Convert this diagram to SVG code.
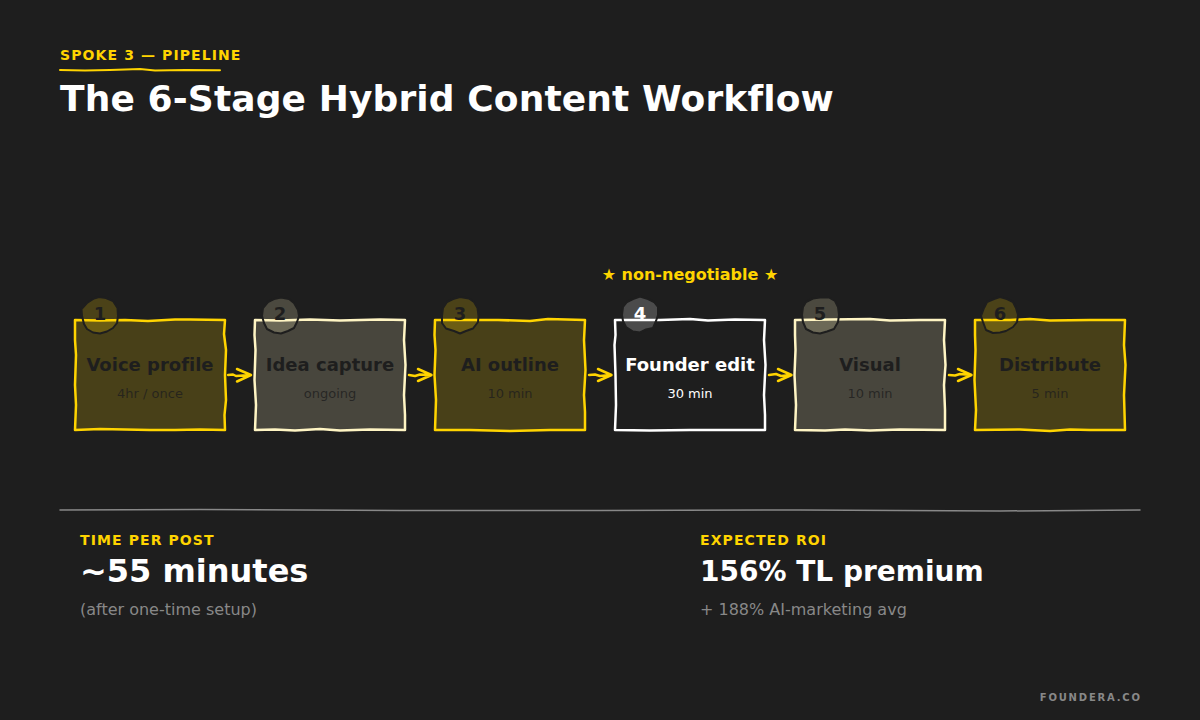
<svg xmlns="http://www.w3.org/2000/svg" width="1200" height="720" viewBox="0 0 1200 720">
<style>
text{font-family:"DejaVu Sans",sans-serif;font-variant-ligatures:none}
.box{stroke-width:2.5;stroke-linejoin:round;stroke-linecap:round}
.y{fill:#ffd400;fill-opacity:.19;stroke:#ffd400}
.c{fill:#fff5c4;fill-opacity:.19;stroke:#fff5c4}
.w{fill:none;stroke:#fff}
.badge{stroke:#1e1e1e;stroke-width:2;stroke-linejoin:round}
.by{fill:#ffd400;fill-opacity:.2}
.bc{fill:#fff5c4;fill-opacity:.2}
.bw{fill:#fff;fill-opacity:.2}
.num{font-size:18px;font-weight:700;text-anchor:middle;fill:#1e1e1e}
.name{font-size:18px;font-weight:700;text-anchor:middle;fill:#1e1e1e}
.sub{font-size:13px;text-anchor:middle;fill:#1e1e1e;fill-opacity:.8}
.cap{font-size:14px;font-weight:700;letter-spacing:1.1px;fill:#ffd400}
.big{font-weight:700;fill:#fff}
.note{font-size:16px;fill:#888}
.arr{fill:none;stroke:#ffd400;stroke-width:2.5;stroke-linecap:round;stroke-linejoin:round}
</style>
<rect width="1200" height="720" fill="#1e1e1e"/>
<text x="60" y="60" class="cap">SPOKE 3 — PIPELINE</text>
<path d="M60 70 L85 70.600 L110 70 L140 69 L155 70.600 L185 70 L220 70.200" fill="none" stroke="#ffd400" stroke-width="2" stroke-linecap="round"/>
<text x="60" y="111" font-size="36" font-weight="700" letter-spacing=".12" fill="#fff">The 6-Stage Hybrid Content Workflow</text>
<text x="690" y="280" font-size="16" font-weight="700" fill="#ffd400" text-anchor="middle">★ non-negotiable ★</text>

<g id="connectors">
<path class="arr" d="M228 375 L233 374.500 L236 376 L250 375 M237 369 L251 375 L237 381.500"/>
<path class="arr" d="M409 375 L415 376 L420 374.500 L431 375 M418 369 L431.500 375 L418 381"/>
<path class="arr" d="M589 375 L595 374.500 L600 376 L611 375 M598 369 L611.500 375 L598 381"/>
<path class="arr" d="M769 375 L776 374 L781 376 L791 375 M778 369 L791.500 375 L778 381"/>
<path class="arr" d="M949 375 L955 375.500 L960 374 L971 375 M958 369 L971.500 375 L958 381"/>
</g>

<g id="node-1">
<path class="box y" d="M75 320 L100 320.500 L125 320 L148 321 L175 319.500 L190 319.500 L225 320 L224 334 L226 350 L225 375 L226 400 L224.500 415 L225 430 L200 429.500 L175 430 L150 430 L125 429.500 L100 429 L75 430 L76 405 L75 385 L76 355 L75 340 Z"/>
<path class="badge by" d="M118 316 L117 323 L113 328 L107 331.500 L100 333.500 L93 332.500 L87 329 L84 324 L82 316 L81.500 309 L87 303 L94 298.500 L99 297 L106 298 L113 301 L117.500 308 Z"/>
<text x="100" y="320" class="num">1</text>
<text x="150" y="371" class="name">Voice profile</text>
<text x="150" y="398" class="sub">4hr / once</text>
</g>

<g id="node-2">
<path class="box c" d="M255 320 L280 320.500 L310 319.500 L340 320.500 L380 319.500 L405 320 L404 340 L405.500 365 L404 395 L405 415 L405 430 L370 429.500 L340 430.500 L320 429 L295 430.500 L275 429.500 L255 430 L256 405 L254.500 380 L255.500 350 L254.500 335 Z"/>
<path class="badge bc" d="M299 316 L297 322 L294 328 L288 331 L281 333.500 L274 332.500 L267 329 L264 323 L262 316 L263 308 L268 302 L274 299 L281 297.500 L289 299 L294 303 L298 310 Z"/>
<text x="280" y="320" class="num">2</text>
<text x="330" y="371" class="name">Idea capture</text>
<text x="330" y="398" class="sub">ongoing</text>
</g>

<g id="node-3">
<path class="box y" d="M435 320 L470 320 L498 320 L530 321 L548 319 L585 320 L584 340 L585.500 370 L584 395 L585 412 L585 430 L550 430 L510 431 L470 430 L435 430 L436 400 L434.500 375 L435.500 350 L434.500 335 Z"/>
<path class="badge by" d="M478.500 316 L478 322 L473 328.500 L466 331 L460 333.500 L454 331 L446 328.500 L442 323 L442 316 L443 308 L447 302 L453 299 L460 297 L469 298.500 L474 302 L477.500 308 Z"/>
<text x="460" y="320" class="num">3</text>
<text x="510" y="371" class="name">AI outline</text>
<text x="510" y="398" class="sub">10 min</text>
</g>

<g id="node-4">
<path class="box w" d="M615 320 L660 320 L690 319 L708 320.500 L735 319.500 L765 320 L764 340 L765.500 365 L764 395 L765 415 L765 430 L730 430 L690 430 L650 430.500 L615 430 L616 405 L615.500 375 L614.500 345 L615.500 335 Z"/>
<path class="badge bw" d="M658 315 L656 321 L653 328 L646 329.500 L640 332.500 L633 331.500 L626 327 L623 321 L622 315 L623 307 L627 302 L633 299 L640 296.500 L648 299 L654 302 L658 307 Z"/>
<text x="640" y="320" class="num" style="fill:#fff">4</text>
<text x="690" y="371" class="name" style="fill:#fff">Founder edit</text>
<text x="690" y="398" class="sub" style="fill:#fff;fill-opacity:1">30 min</text>
</g>

<g id="node-5">
<path class="box c" d="M795 320 L830 319.500 L870 319 L890 320.500 L920 320 L945 320 L944 340 L945.500 365 L944 385 L945 410 L945 430 L900 429.500 L870 430.500 L845 429.500 L825 430.500 L795 430 L796 405 L794.500 375 L795.500 350 L795 335 Z"/>
<path class="badge bc" d="M839 315 L838 322 L834 329 L827 331.500 L820 333.500 L813 332.500 L806 329 L803 322 L802 315 L803 307 L806 302 L813 298.500 L820 297.500 L829 297.500 L835 301 L838 307 Z"/>
<text x="820" y="320" class="num">5</text>
<text x="870" y="371" class="name">Visual</text>
<text x="870" y="398" class="sub">10 min</text>
</g>

<g id="node-6">
<path class="box y" d="M975 320 L1010 320 L1030 319 L1050 320.500 L1090 320 L1125 320 L1124 345 L1125.500 365 L1124 395 L1125 430 L1090 430 L1070 429.500 L1050 431 L1020 429.500 L975 430 L976 410 L974.500 380 L975.500 350 L975 335 Z"/>
<path class="badge by" d="M1018 315 L1017 322 L1013 327 L1006 331 L1000 332.500 L993 333 L986 330 L983 322 L981 316 L984 308 L987 302 L994 299 L1000 297 L1007 299 L1013 302 L1016 308 Z"/>
<text x="1000" y="320" class="num">6</text>
<text x="1050" y="371" class="name">Distribute</text>
<text x="1050" y="398" class="sub">5 min</text>
</g>

<path d="M60 510 L200 509.600 L400 510.400 L600 510.600 L800 510 L1000 511 L1140 510" fill="none" stroke="#888" stroke-width="1.500" stroke-linecap="round"/>

<text x="80" y="545" class="cap">TIME PER POST</text>
<text x="80" y="582" class="big" font-size="32">~55 minutes</text>
<text x="80" y="615" class="note">(after one-time setup)</text>
<text x="700" y="545" class="cap">EXPECTED ROI</text>
<text x="700" y="581" class="big" font-size="28">156% TL premium</text>
<text x="700" y="615" class="note">+ 188% AI-marketing avg</text>
<text x="1141.800" y="701" font-size="10" font-weight="700" letter-spacing="1.8" fill="#888" text-anchor="end">FOUNDERA.CO</text>
</svg>
